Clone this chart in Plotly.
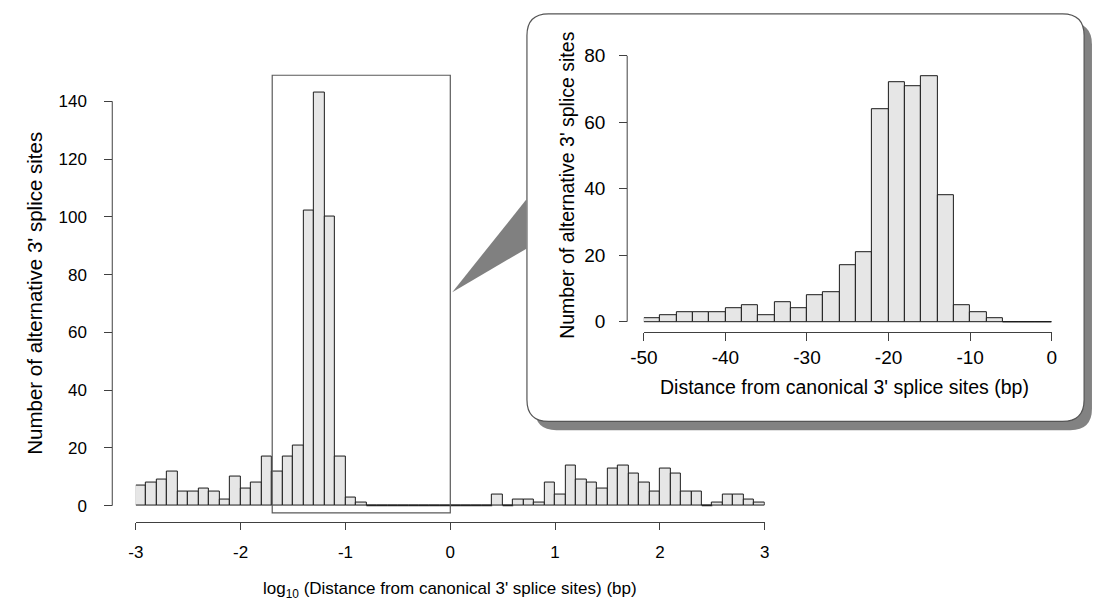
import numpy as np
import plotly.graph_objects as go

# ---------------- data ----------------
main_bin_width = 0.1
main_bin_left = [round(-3.0 + main_bin_width * i, 1) for i in range(60)]
main_counts = [7, 8, 9, 12, 5, 5, 6, 5, 2, 10,
               6, 8, 17, 12, 17, 21, 102, 143, 100, 17,
               3, 1, 0, 0, 0, 0, 0, 0, 0, 0,
               0, 0, 0, 0, 4, 0, 2, 2, 1, 8,
               4, 14, 9, 8, 6, 13, 14, 11, 8, 5,
               13, 11, 5, 5, 0, 1, 4, 4, 2, 1]

inset_bin_width = 2
inset_bin_left = list(range(-50, 0, 2))
inset_counts = [1, 2, 3, 3, 3, 4, 5, 2, 6, 4, 8, 9, 17, 21, 64,
                72, 71, 74, 38, 5, 3, 1, 0, 0, 0]

main_xticks = [-3, -2, -1, 0, 1, 2, 3]
main_xticklabels = ["-3", "-2", "-1", "0", "1", "2", "3"]
main_yticks = [0, 20, 40, 60, 80, 100, 120, 140]
inset_xticks = [-50, -40, -30, -20, -10, 0]
inset_xticklabels = ["-50", "-40", "-30", "-20", "-10", "0"]
inset_yticks = [0, 20, 40, 60, 80]

zoom_x = [np.log10(0.02), 0.0]      # highlighted window (log10 units)
zoom_y = [-2.5, 149]

main_xtitle = "log<sub>10</sub> (Distance from canonical 3' splice sites) (bp)"
inset_xtitle = "Distance from canonical 3' splice sites (bp)"
ytitle = "Number of alternative 3' splice sites"

# ---------------- layout helpers ----------------
W, H = 1095, 603
FONT = "Liberation Sans, Arial, Helvetica, sans-serif"
BAR_FILL = "#e6e6e6"
EDGE = "#1a1a1a"
AX = "#404040"


def px(x):
    return x / W


def py(y):
    return 1 - y / H


def centers(lefts, w):
    return [l + w / 2 for l in lefts]


def zero_baseline(lefts, counts, w):
    xs, ys = [], []
    for l, c in zip(lefts, counts):
        if c == 0:
            xs += [l, l + w, None]
            ys += [0, 0, None]
    return xs, ys


fig = go.Figure()

# main histogram
fig.add_trace(go.Bar(
    x=centers(main_bin_left, main_bin_width), y=main_counts, width=main_bin_width,
    marker=dict(color=BAR_FILL, line=dict(color=EDGE, width=1)),
    xaxis="x", yaxis="y", hoverinfo="x+y", showlegend=False))
zx, zy = zero_baseline(main_bin_left, main_counts, main_bin_width)
fig.add_trace(go.Scatter(x=zx, y=zy, mode="lines", line=dict(color=EDGE, width=1),
                         xaxis="x", yaxis="y", showlegend=False, hoverinfo="skip"))

# inset histogram
fig.add_trace(go.Bar(
    x=centers(inset_bin_left, inset_bin_width), y=inset_counts, width=inset_bin_width,
    marker=dict(color=BAR_FILL, line=dict(color=EDGE, width=1)),
    xaxis="x2", yaxis="y2", hoverinfo="x+y", showlegend=False))
zx2, zy2 = zero_baseline(inset_bin_left, inset_counts, inset_bin_width)
fig.add_trace(go.Scatter(x=zx2, y=zy2, mode="lines", line=dict(color=EDGE, width=1),
                         xaxis="x2", yaxis="y2", showlegend=False, hoverinfo="skip"))

MAIN_TICK = 17
INSET_TICK = 19
tickfont_main = dict(family=FONT, size=MAIN_TICK, color="black")
tickfont_inset = dict(family=FONT, size=INSET_TICK, color="black")

main_y_range = [-4, 152]
inset_y_range = [-2, 82]

fig.update_layout(
    width=W, height=H, autosize=False,
    margin=dict(l=0, r=0, t=0, b=0),
    paper_bgcolor="white", plot_bgcolor="rgba(0,0,0,0)",
    bargap=0,
    font=dict(family=FONT, color="black"),
    xaxis=dict(domain=[px(124), px(764)], range=[-3, 3], anchor="free", position=py(525),
               showline=True, linecolor=AX, linewidth=1, ticks="outside", ticklen=7,
               tickcolor=AX, tickvals=main_xticks, ticktext=main_xticklabels,
               tickfont=tickfont_main, showgrid=False, zeroline=False,
               ticklabelstandoff=8),
    yaxis=dict(domain=[py(520.2), py(63.4)], range=main_y_range, anchor="free",
               position=px(100), showline=False, ticks="outside", ticklen=8,
               tickcolor=AX, tickvals=main_yticks, tickfont=tickfont_main,
               showgrid=False, zeroline=False, ticklabelstandoff=14),
    xaxis2=dict(domain=[px(641), px(1056)], range=[-50, 0], anchor="free", position=py(332),
                showline=True, linecolor=AX, linewidth=1, ticks="outside", ticklen=8,
                tickcolor=AX, tickvals=inset_xticks, ticktext=inset_xticklabels,
                tickfont=tickfont_inset, showgrid=False, zeroline=False,
                ticklabelstandoff=1),
    yaxis2=dict(domain=[py(328.7), py(45.8)], range=inset_y_range, anchor="free",
                position=px(624), showline=False, ticks="outside", ticklen=8,
                tickcolor=AX, tickvals=inset_yticks, tickfont=tickfont_inset,
                showgrid=False, zeroline=False, ticklabelstandoff=10),
)


def rounded_path(x0, y0, x1, y1, r):
    rx, ry = r / W, r / H
    X0, X1 = px(x0), px(x1)
    Y0, Y1 = py(y0), py(y1)  # Y0 top, Y1 bottom (paper)
    return (f"M {X0 + rx},{Y0} L {X1 - rx},{Y0} Q {X1},{Y0} {X1},{Y0 - ry} "
            f"L {X1},{Y1 + ry} Q {X1},{Y1} {X1 - rx},{Y1} "
            f"L {X0 + rx},{Y1} Q {X0},{Y1} {X0},{Y1 + ry} "
            f"L {X0},{Y0 - ry} Q {X0},{Y0} {X0 + rx},{Y0} Z")


shapes = []
# inset shadow + box
shapes.append(dict(type="path", xref="paper", yref="paper", layer="below",
                   path=rounded_path(530, 19, 1097, 432, 22),
                   fillcolor="#828282", line=dict(width=0)))
shapes.append(dict(type="path", xref="paper", yref="paper", layer="below",
                   path=rounded_path(522, 10, 1089, 423, 22),
                   fillcolor="white", line=dict(color="#555555", width=1.2)))
# callout wedge
shapes.append(dict(type="path", xref="paper", yref="paper", layer="below",
                   path=f"M {px(446)},{py(292)} L {px(521.5)},{py(198)} L {px(521.5)},{py(248)} Z",
                   fillcolor="#808080", line=dict(width=0)))
# highlight rectangle
shapes.append(dict(type="rect", xref="x", yref="y", x0=zoom_x[0], x1=zoom_x[1],
                   y0=zoom_y[0], y1=zoom_y[1], line=dict(color="#5a5a5a", width=1.2),
                   fillcolor="rgba(0,0,0,0)", layer="above"))
# R-style y axis lines (span first to last tick)
shapes.append(dict(type="line", xref="paper", yref="y", x0=px(100), x1=px(100),
                   y0=main_yticks[0], y1=main_yticks[-1], line=dict(color=AX, width=1)))
shapes.append(dict(type="line", xref="paper", yref="y2", x0=px(624), x1=px(624),
                   y0=inset_yticks[0], y1=inset_yticks[-1], line=dict(color=AX, width=1)))
fig.update_layout(shapes=shapes)

annotations = [
    dict(text=ytitle, x=px(20), y=py(293), xref="paper", yref="paper", textangle=-90,
         showarrow=False, font=dict(family=FONT, size=20.5), xanchor="center", yanchor="middle"),
    dict(text=main_xtitle, x=px(444), y=py(594), xref="paper", yref="paper",
         showarrow=False, font=dict(family=FONT, size=17), xanchor="center", yanchor="middle"),
    dict(text=ytitle, x=px(562), y=py(184), xref="paper", yref="paper", textangle=-90,
         showarrow=False, font=dict(family=FONT, size=19.5), xanchor="center", yanchor="middle"),
    dict(text=inset_xtitle, x=px(845), y=py(388), xref="paper", yref="paper",
         showarrow=False, font=dict(family=FONT, size=19.5), xanchor="center", yanchor="middle"),
]
fig.update_layout(annotations=annotations)

fig.write_html("out.html")
